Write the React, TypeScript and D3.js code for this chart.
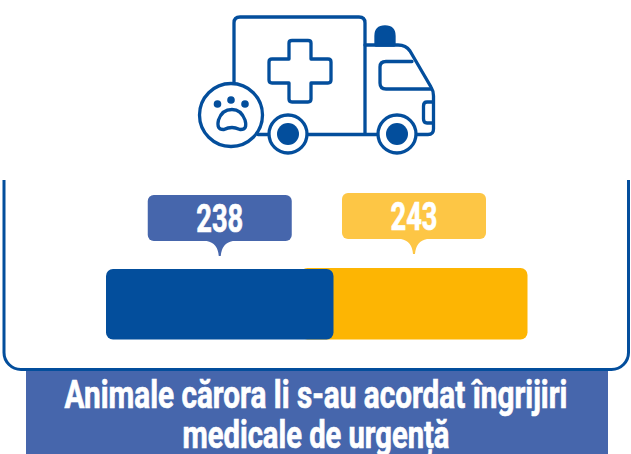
import React, { useLayoutEffect, useRef } from 'react';
import { scaleLinear, path } from 'd3';

const width = 631;
const height = 454;

const values = [238, 243];
const barColors = ['#034e9c', '#fdb503'];
const calloutColors = ['#4666ac', '#fdc645'];
const titleLines = ['Animale cărora li s-au acordat îngrijiri', 'medicale de urgență'];

const blue = '#034e9c';
const font = 'Roboto, "Liberation Sans", sans-serif';

// the two bars overlap in the middle, one grows from the left and one from the right
const xLeft = scaleLinear().domain([0, values[0]]).range([106, 333.5]);
const xRight = scaleLinear().domain([0, values[1]]).range([527.5, 300.5]);

const barTops = [269, 268];
const barBottom = 339.5;
const calloutTops = [195, 193];
const calloutW = 144;
const calloutH = 46;

const framePath = () => {
    const p = path();
    p.moveTo(4, 180);
    p.lineTo(4, 352);
    p.arcTo(4, 369.5, 21, 369.5, 17);
    p.lineTo(611, 369.5);
    p.arcTo(628.5, 369.5, 628.5, 352, 17);
    p.lineTo(628.5, 180);
    return p.toString();
};

const tailPath = (cx: number, y: number) => {
    const p = path();
    p.moveTo(cx - 13, y);
    p.quadraticCurveTo(cx - 2, y + 2, cx - 1, y + 15);
    p.lineTo(cx + 1, y + 15);
    p.quadraticCurveTo(cx + 2, y + 2, cx + 13, y);
    p.closePath();
    return p.toString();
};

// no condensed font here, so squeeze the text to the width it has in the picture
const NarrowText = ({ x, y, w, size, children }: { x: number; y: number; w: number; size: number; children: any }) => {
    const ref = useRef<SVGTextElement>(null);
    useLayoutEffect(() => {
        const el = ref.current;
        if (!el) return;
        const k = w / el.getComputedTextLength();
        el.setAttribute('transform', `translate(${x},${y}) scale(${k},1)`);
    }, [x, y, w]);
    return (
        <text ref={ref} textAnchor="middle" fontFamily={font} fontWeight={700} fontSize={size}
            fill="#fff" stroke="#fff" strokeWidth={0.7}>{children}</text>
    );
};

const Ambulance = () => (
    <g fill="none" stroke={blue} strokeWidth={3.3} strokeLinejoin="round" strokeLinecap="round">
        <path d="M234 85V23Q234 17 240 17H359Q365 17 365 23V134" />
        <path d="M258 134.5H428Q433.5 134.5 433.5 129V96Q433.5 91 431 87L410 51Q406 45 398 45H365" />
        <path d="M412 61.500H386Q380 61.500 380 67V83Q380 89 386 89H431" />
        <path d="M433 102H427Q423.500 102 423.500 106V119Q423.500 123 427 123H433" />
        <path d="M376 45V36Q376 27 385 27Q394 27 394 36V45Z" fill={blue} />
        <path d="M289 43Q289 40.500 292 40.500H308Q311 40.500 311 43V59H328Q331 59 331 62V80Q331 83 328 83H311V99Q311 102 308 102H292Q289 102 289 99V83H272Q269 83 269 80V62Q269 59 272 59H289Z" />
        {[288, 397].map(cx => (
            <g key={cx}>
                <circle cx={cx} cy={134} r={19} fill="#fff" />
                <circle cx={cx} cy={134} r={11} fill={blue} stroke="none" />
            </g>
        ))}
        <circle cx={231} cy={115} r={31.500} fill="#fff" />
        <circle cx={217.500} cy={104} r={3.800} fill={blue} stroke="none" />
        <circle cx={231} cy={100} r={3.800} fill={blue} stroke="none" />
        <circle cx={245} cy={104} r={3.800} fill={blue} stroke="none" />
        <path d="M232 109.500Q241 109.500 245 120Q248 130 240 129.500Q235 127.500 232 127.500Q228 127.500 224 129.500Q216 130 218.500 120Q222 109.500 232 109.500Z" />
    </g>
);

const App = () => {
    const left = [xLeft(0), xRight(values[1])];
    const right = [xLeft(values[0]), xRight(0)];

    return (
        <svg width={width} height={height} style={{ position: 'absolute', left: 0, top: 0 }}>
            <rect width={width} height={height} fill="#fff" />
            <Ambulance />
            <rect x={26} y={370} width={582} height={84} fill="#4666ac" />
            <path d={framePath()} fill="none" stroke={blue} strokeWidth={3} />

            {[1, 0].map(i => (
                <rect key={i} x={left[i]} y={barTops[i]} width={right[i] - left[i]} height={barBottom - barTops[i]}
                    rx={7} fill={barColors[i]} />
            ))}

            {values.map((v, i) => {
                const cx = (left[i] + right[i]) / 2;
                return (
                    <g key={i}>
                        <rect x={cx - calloutW / 2} y={calloutTops[i]} width={calloutW} height={calloutH} rx={6} fill={calloutColors[i]} />
                        <path d={tailPath(cx, calloutTops[i] + calloutH)} fill={calloutColors[i]} />
                        <NarrowText x={cx} y={calloutTops[i] + 37} w={47} size={38}>{v}</NarrowText>
                    </g>
                );
            })}

            <NarrowText x={316} y={408} w={503} size={38}>{titleLines[0]}</NarrowText>
            <NarrowText x={316} y={448} w={267} size={38}>{titleLines[1]}</NarrowText>
        </svg>
    );
};

export default App;
